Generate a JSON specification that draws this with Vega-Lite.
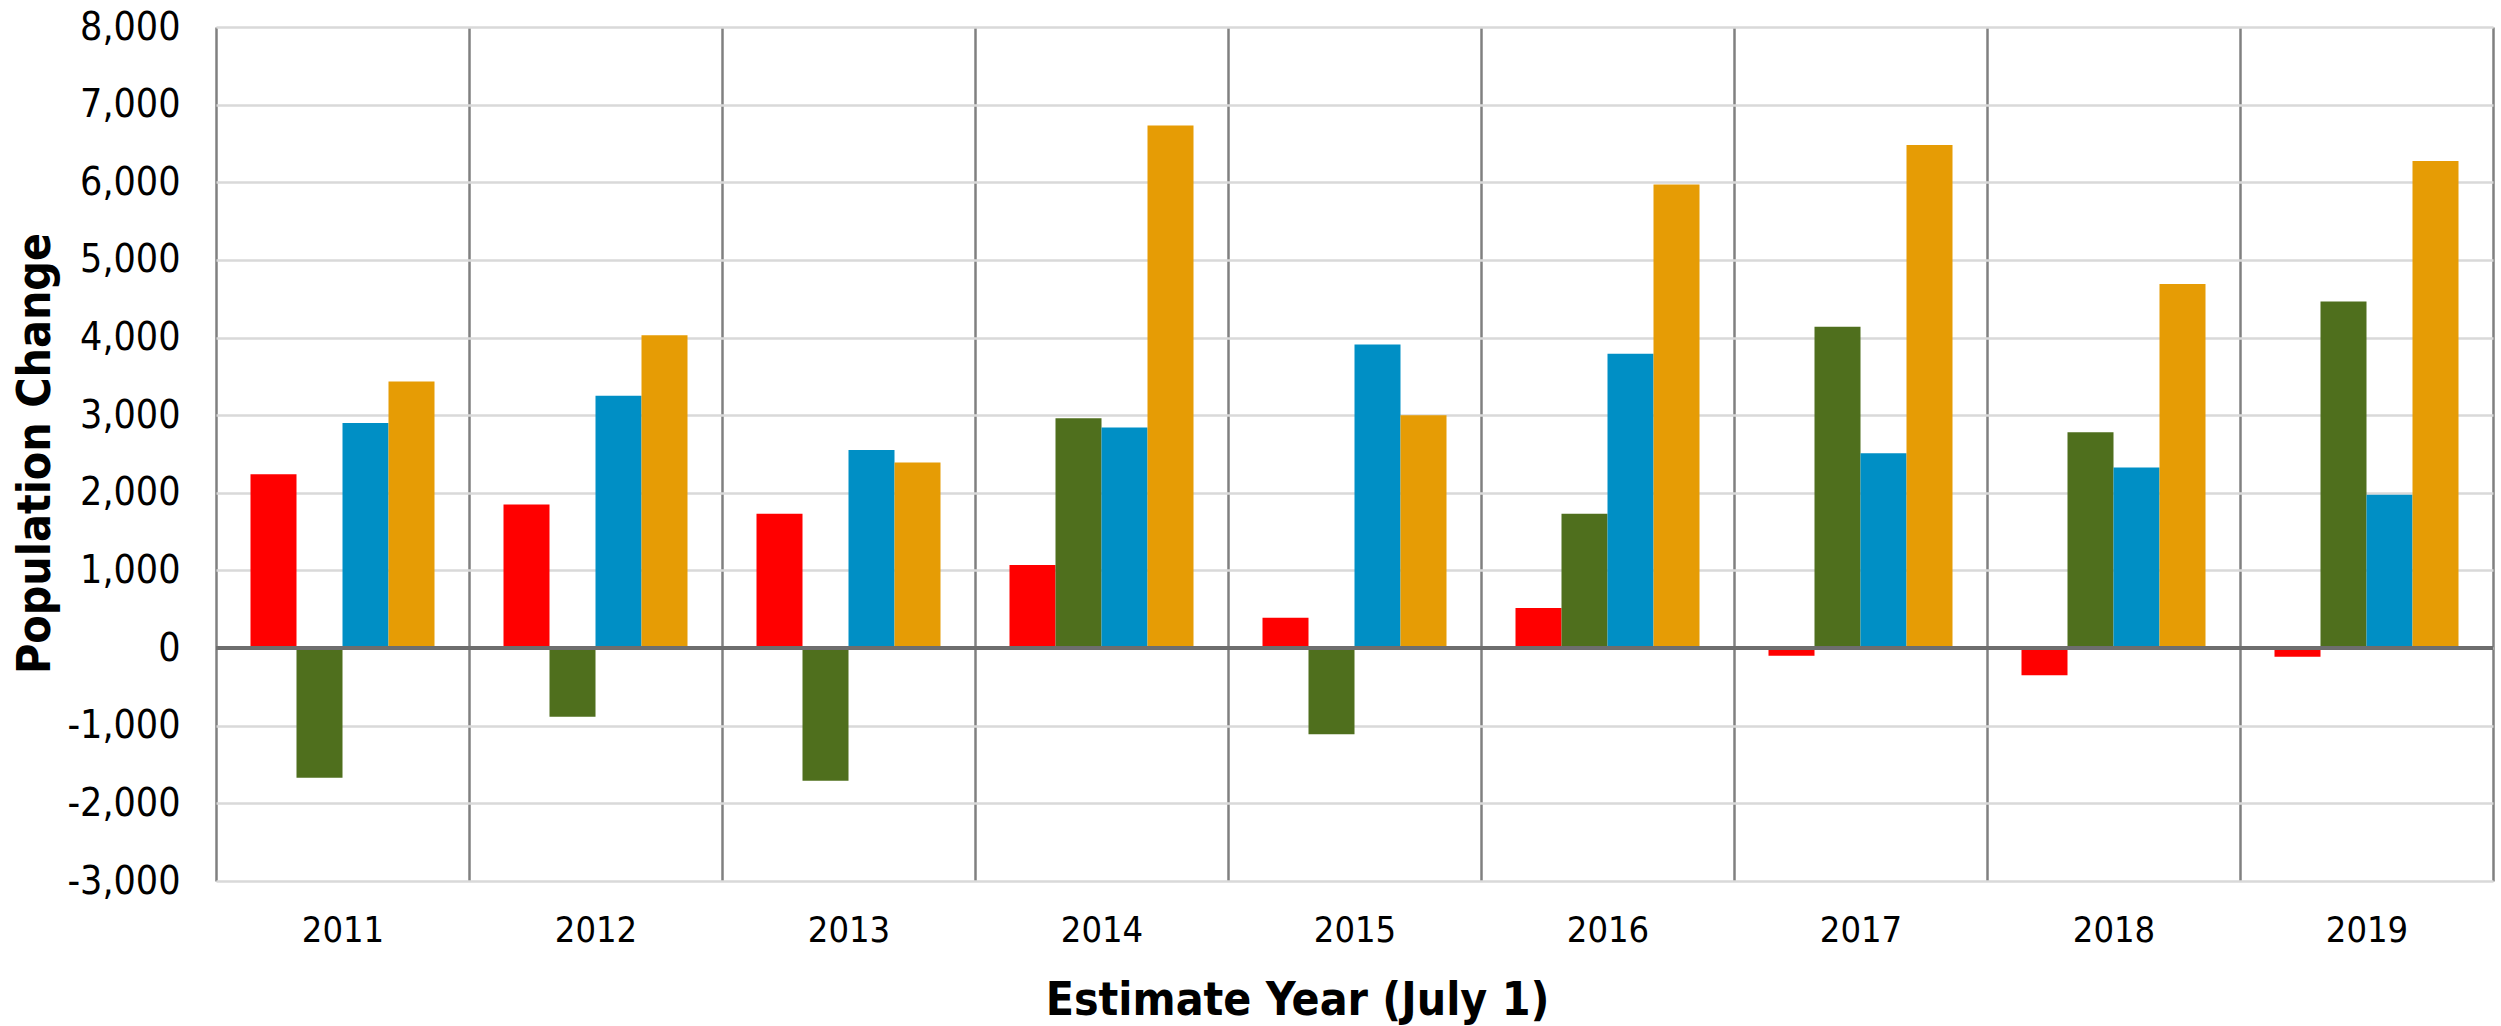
{
  "$schema": "https://vega.github.io/schema/vega-lite/v6.json",
  "width": 2277,
  "height": 854,
  "autosize": {"type": "none"},
  "padding": {"left": 216, "top": 27, "right": 8, "bottom": 145},
  "background": "white",
  "config": {
    "view": {"stroke": null},
    "font": "DejaVu Sans Condensed"
  },
  "data": {
    "values": [
      {"year": "2011", "series": "Natural Increase", "value": 2240},
      {"year": "2011", "series": "Domestic Migration", "value": -1670},
      {"year": "2011", "series": "International Migration", "value": 2900},
      {"year": "2011", "series": "Total Change", "value": 3435},
      {"year": "2012", "series": "Natural Increase", "value": 1850},
      {"year": "2012", "series": "Domestic Migration", "value": -885},
      {"year": "2012", "series": "International Migration", "value": 3250},
      {"year": "2012", "series": "Total Change", "value": 4030},
      {"year": "2013", "series": "Natural Increase", "value": 1730},
      {"year": "2013", "series": "Domestic Migration", "value": -1710},
      {"year": "2013", "series": "International Migration", "value": 2550},
      {"year": "2013", "series": "Total Change", "value": 2390},
      {"year": "2014", "series": "Natural Increase", "value": 1070},
      {"year": "2014", "series": "Domestic Migration", "value": 2960},
      {"year": "2014", "series": "International Migration", "value": 2840},
      {"year": "2014", "series": "Total Change", "value": 6730},
      {"year": "2015", "series": "Natural Increase", "value": 390},
      {"year": "2015", "series": "Domestic Migration", "value": -1110},
      {"year": "2015", "series": "International Migration", "value": 3910},
      {"year": "2015", "series": "Total Change", "value": 3000},
      {"year": "2016", "series": "Natural Increase", "value": 515},
      {"year": "2016", "series": "Domestic Migration", "value": 1730},
      {"year": "2016", "series": "International Migration", "value": 3790},
      {"year": "2016", "series": "Total Change", "value": 5970},
      {"year": "2017", "series": "Natural Increase", "value": -100},
      {"year": "2017", "series": "Domestic Migration", "value": 4140},
      {"year": "2017", "series": "International Migration", "value": 2510},
      {"year": "2017", "series": "Total Change", "value": 6480},
      {"year": "2018", "series": "Natural Increase", "value": -350},
      {"year": "2018", "series": "Domestic Migration", "value": 2780},
      {"year": "2018", "series": "International Migration", "value": 2325},
      {"year": "2018", "series": "Total Change", "value": 4690},
      {"year": "2019", "series": "Natural Increase", "value": -110},
      {"year": "2019", "series": "Domestic Migration", "value": 4465},
      {"year": "2019", "series": "International Migration", "value": 1975},
      {"year": "2019", "series": "Total Change", "value": 6275}
    ]
  },
  "layer": [
    {
      "mark": {"type": "bar"},
      "encoding": {
        "x": {
          "field": "year",
          "type": "nominal",
          "scale": {"paddingInner": 0, "paddingOuter": 0},
          "axis": {
            "title": "Estimate Year (July 1)",
            "titleFont": "DejaVu Sans Condensed",
            "titleFontWeight": "bold",
            "titleFontSize": 46,
            "titleColor": "black",
            "titleBaseline": "middle",
            "titleAlign": "center",
            "titleX": 1081,
            "titleY": 119,
            "labelAngle": 0,
            "labelFont": "DejaVu Sans Condensed",
            "labelFontSize": 36,
            "labelColor": "black",
            "labelBaseline": "middle",
            "labelPadding": 49,
            "ticks": false,
            "tickSize": 0,
            "tickBand": "extent",
            "domain": false,
            "grid": true,
            "gridColor": "#808080",
            "gridWidth": 2.5,
            "zindex": 0
          }
        },
        "xOffset": {
          "field": "series",
          "type": "nominal",
          "sort": ["Natural Increase", "Domestic Migration", "International Migration", "Total Change"],
          "scale": {"paddingInner": 0, "paddingOuter": 0.75}
        },
        "y": {
          "field": "value",
          "type": "quantitative",
          "scale": {"domain": [-3000, 8000], "nice": false, "zero": false},
          "axis": {
            "title": "Population Change",
            "titleFont": "DejaVu Sans Condensed",
            "titleFontWeight": "bold",
            "titleFontSize": 46,
            "titleColor": "black",
            "titleBaseline": "middle",
            "titleX": -181,
            "titleY": 426,
            "values": [-3000, -2000, -1000, 0, 1000, 2000, 3000, 4000, 5000, 6000, 7000, 8000],
            "labelExpr": "replace(format(datum.value, ',.0f'), '\u2212', '-')",
            "labelFont": "DejaVu Sans Condensed",
            "labelFontSize": 39,
            "labelColor": "black",
            "labelPadding": 36,
            "ticks": false,
            "tickSize": 0,
            "domain": false,
            "grid": true,
            "gridColor": "#d9d9d9",
            "gridWidth": 2.5,
            "zindex": 0
          }
        },
        "color": {
          "field": "series",
          "type": "nominal",
          "scale": {
            "domain": ["Natural Increase", "Domestic Migration", "International Migration", "Total Change"],
            "range": ["#FF0000", "#4F6F1D", "#008FC5", "#E69C05"]
          },
          "legend": null
        }
      }
    },
    {
      "mark": {"type": "rule", "color": "#6e6e6e", "strokeWidth": 3.5},
      "encoding": {"y": {"datum": 0}}
    }
  ]
}
